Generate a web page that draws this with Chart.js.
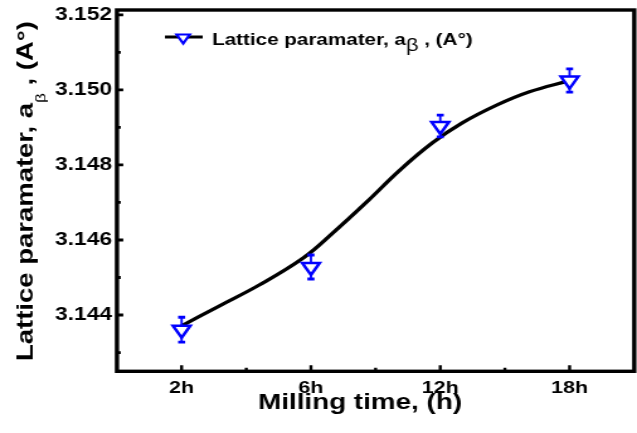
<!DOCTYPE html>
<html><head><meta charset="utf-8">
<script src="https://cdn.jsdelivr.net/npm/chart.js@4.4.0/dist/chart.umd.min.js"></script>
<style>html,body{margin:0;padding:0;background:#fff;overflow:hidden;} canvas{display:block;}</style>
</head><body>
<canvas id="c" width="506" height="433" style="width:637px;height:433px;"></canvas>
<script>
// ---- data ----
const categories = ['2h', '6h', '12h', '18h'];
const latticeValues = [3.14361, 3.14528, 3.14904, 3.15025];
const latticeErrors = [0.00033, 0.00032, 0.00029, 0.00031];
// fitted sigmoid curve (x = category index)
const fitX = [0, 0.29, 0.60, 0.94, 1.17, 1.43, 1.69, 1.94, 2.17, 2.44, 2.69, 2.99];
const fitY = [3.14371, 3.14424, 3.14480, 3.14552, 3.14619, 3.14701, 3.14787, 3.14859, 3.14912, 3.14960, 3.14995, 3.15024];
const yTicks = [3.144, 3.146, 3.148, 3.150, 3.152];
const yMinorTicks = [3.143, 3.145, 3.147, 3.149, 3.151];
const xMinorTicks = [0.5, 1.5, 2.5];
const labelMain = 'Lattice paramater, a';
const labelSub = 'β';
const labelTail = ' , (A°)';
const xTitle = 'Milling time, (h)';

const FAM = "'Liberation Sans', Arial, Helvetica, sans-serif";
const BLUE = '#0000ff';

function drawParts(ctx, parts, sx, sy, align) {
  let total = 0;
  parts.forEach(p => { ctx.font = p.font; p.w = ctx.measureText(p.text).width; total += p.w; });
  ctx.save();
  ctx.scale(sx, sy);
  let cx = align === 'center' ? -total / 2 : 0;
  ctx.textBaseline = 'alphabetic';
  ctx.textAlign = 'left';
  parts.forEach(p => { ctx.font = p.font; ctx.fillText(p.text, cx, p.dy || 0); cx += p.w; });
  ctx.restore();
  return total;
}
function measureParts(ctx, parts) {
  let t = 0; parts.forEach(p => { ctx.font = p.font; t += ctx.measureText(p.text).width; }); return t;
}

const decorPlugin = {
  id: 'decor',
  beforeDatasetDraw(chart, args) {
    if (args.index !== 0) return;
    const ctx = chart.ctx, xs = chart.scales.x, ys = chart.scales.y;
    ctx.save();
    ctx.strokeStyle = BLUE;
    latticeValues.forEach((v, i) => {
      const px = xs.getPixelForValue(i);
      const t = ys.getPixelForValue(v + latticeErrors[i]);
      const b = ys.getPixelForValue(v - latticeErrors[i]);
      ctx.lineWidth = 1.8;
      ctx.beginPath(); ctx.moveTo(px, t); ctx.lineTo(px, b); ctx.stroke();
      ctx.lineWidth = 2.8;
      ctx.beginPath(); ctx.moveTo(px - 2.8, t); ctx.lineTo(px + 2.8, t);
      ctx.moveTo(px - 2.8, b); ctx.lineTo(px + 2.8, b); ctx.stroke();
    });
    ctx.restore();
  },
  afterDraw(chart) {
    const ctx = chart.ctx, a = chart.chartArea, xs = chart.scales.x, ys = chart.scales.y;
    ctx.save();
    // frame
    ctx.strokeStyle = '#000';
    ctx.lineWidth = 3.4;
    ctx.lineJoin = 'miter';
    ctx.strokeRect(a.left, a.top, a.right - a.left, a.bottom - a.top);
    // ticks (inward)
    ctx.lineWidth = 2.4;
    ctx.beginPath();
    categories.forEach((c, i) => { const px = xs.getPixelForValue(i); ctx.moveTo(px, a.bottom); ctx.lineTo(px, a.bottom - 6); });
    xMinorTicks.forEach(v => { const px = xs.getPixelForValue(v); ctx.moveTo(px, a.bottom); ctx.lineTo(px, a.bottom - 3.5); });
    ctx.stroke();
    ctx.lineWidth = 2.8;
    ctx.beginPath();
    yTicks.forEach(v => { const py = ys.getPixelForValue(v); ctx.moveTo(a.left, py); ctx.lineTo(a.left + 5, py); });
    yMinorTicks.forEach(v => { const py = ys.getPixelForValue(v); ctx.moveTo(a.left, py); ctx.lineTo(a.left + 3, py); });
    ctx.stroke();

    ctx.fillStyle = '#000';
    // x title
    ctx.save();
    ctx.translate(286, 409);
    const xp = [{ text: xTitle, font: 'bold 22px ' + FAM }];
    const xw = measureParts(ctx, xp);
    drawParts(ctx, xp, 162 / xw, 1, 'center');
    ctx.restore();

    // y title (rotated)
    const yp = [
      { text: labelMain, font: 'bold 24px ' + FAM },
      { text: labelSub, font: '15px ' + FAM, dy: 13 },
      { text: labelTail, font: 'bold 24px ' + FAM }
    ];
    ctx.save();
    ctx.translate(26.2, 191);
    ctx.rotate(-Math.PI / 2);
    const yw = measureParts(ctx, yp);
    drawParts(ctx, yp, 340 / yw, 0.74, 'center');
    ctx.restore();

    // legend
    const ly = 37;
    ctx.strokeStyle = '#000';
    ctx.lineWidth = 3;
    ctx.beginPath(); ctx.moveTo(131, ly); ctx.lineTo(161, ly); ctx.stroke();
    ctx.strokeStyle = BLUE; ctx.fillStyle = '#fff'; ctx.lineWidth = 2.2;
    const r = 6, cx = 145.5, cy = ly + 0.5;
    ctx.beginPath();
    ctx.moveTo(cx, cy + r);
    ctx.lineTo(cx - r * 0.866, cy - r * 0.5);
    ctx.lineTo(cx + r * 0.866, cy - r * 0.5);
    ctx.closePath(); ctx.fill(); ctx.stroke();
    ctx.fillStyle = '#000';
    const lp = [
      { text: labelMain, font: 'bold 17px ' + FAM },
      { text: labelSub, font: '18px ' + FAM, dy: 6 },
      { text: labelTail, font: 'bold 17px ' + FAM }
    ];
    ctx.save();
    ctx.translate(168.4, 45);
    const lw = measureParts(ctx, lp);
    drawParts(ctx, lp, 207 / lw, 1, 'left');
    ctx.restore();
    ctx.restore();
  }
};

new Chart(document.getElementById('c'), {
  type: 'scatter',
  data: {
    datasets: [
      {
        label: labelMain + labelSub + labelTail,
        data: latticeValues.map((v, i) => ({ x: i, y: v })),
        showLine: false,
        pointStyle: 'triangle',
        rotation: 180,
        pointRadius: 8,
        pointHoverRadius: 8,
        pointBorderWidth: 2.5,
        pointBorderColor: BLUE,
        pointBackgroundColor: '#ffffff'
      },
      {
        label: 'fit',
        data: fitX.map((x, i) => ({ x: x, y: fitY[i] })),
        showLine: true,
        borderColor: '#000',
        borderWidth: 3.3,
        pointRadius: 0,
        tension: 0.4,
        fill: false
      }
    ]
  },
  options: {
    responsive: false,
    animation: false,
    devicePixelRatio: 1,
    events: [],
    layout: { autoPadding: false, padding: { top: 10, right: 2.2, left: 0, bottom: 0 } },
    plugins: { legend: { display: false }, tooltip: { enabled: false }, title: { display: false } },
    scales: {
      x: {
        type: 'linear', min: -0.5, max: 3.5,
        grid: { display: false, drawTicks: false },
        border: { display: false },
        afterBuildTicks: s => { s.ticks = categories.map((c, i) => ({ value: i })); },
        afterFit: s => { s.height = 61.7; s.paddingLeft = 0; s.paddingRight = 0; },
        ticks: {
          autoSkip: false, maxRotation: 0, padding: 7, color: '#000',
          font: { family: FAM, size: 17, weight: 'bold' },
          callback: v => categories[Math.round(v)]
        }
      },
      y: {
        type: 'linear', min: 3.1425, max: 3.15213,
        grid: { display: false, drawTicks: false },
        border: { display: false },
        afterBuildTicks: s => { s.ticks = yTicks.map(v => ({ value: v })); },
        afterFit: s => { s.width = 92.9; s.paddingTop = 0; s.paddingBottom = 0; },
        ticks: {
          padding: 4, color: '#000',
          font: { family: FAM, size: 18, weight: 'bold' },
          callback: v => Number(v).toFixed(3)
        }
      }
    }
  },
  plugins: [decorPlugin]
});
</script>
</body></html>
